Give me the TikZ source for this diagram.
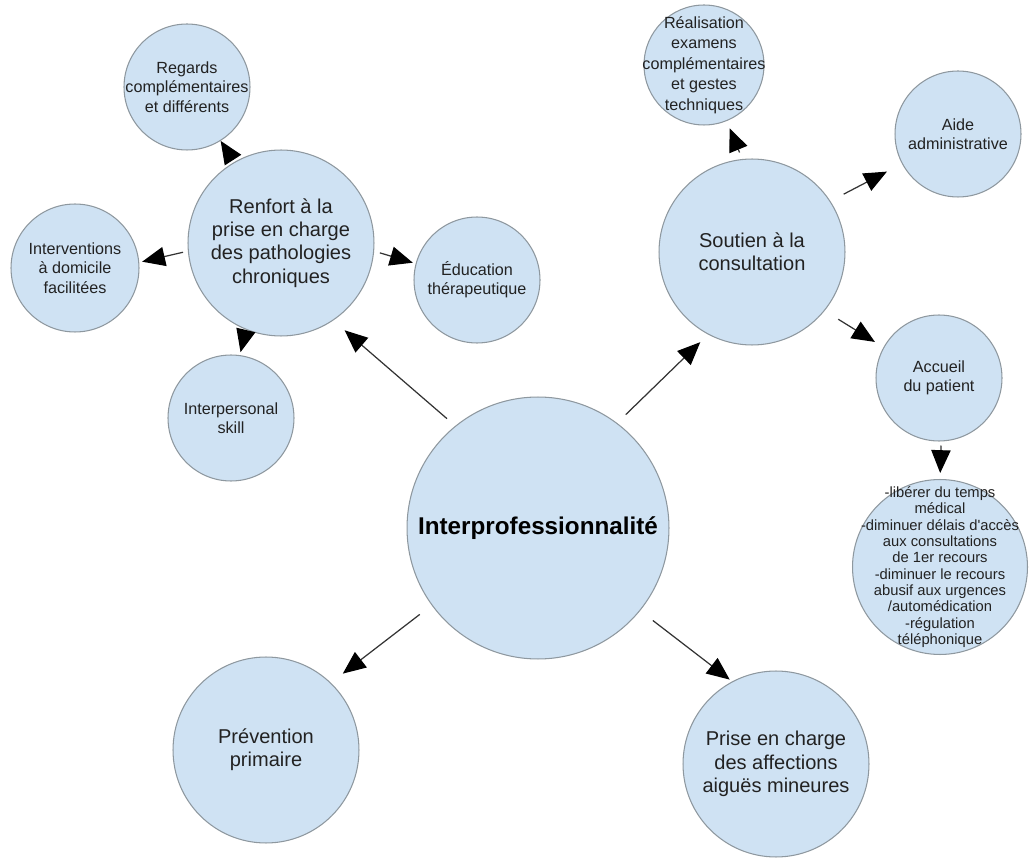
\documentclass[tikz,border=0pt]{standalone}
\usepackage{fontspec}
\setmainfont{Liberation Sans}
\usetikzlibrary{arrows.meta}
\definecolor{bub}{HTML}{CFE2F3}
\definecolor{bord}{HTML}{8E989F}
\definecolor{txt}{HTML}{222222}
\begin{document}
\begin{tikzpicture}[x=0.02cm,y=-0.02cm,
  bubble/.style={circle, draw=bord, fill=bub, line width=0.6pt, inner sep=0pt},
  huge/.style={bubble, minimum size=5.24cm},
  big/.style={bubble, minimum size=3.72cm},
  small/.style={bubble, minimum size=2.52cm},
  hugetxt/.style={align=center, text=black, font=\fontsize{13.8}{15}\selectfont\bfseries},
  bigtxt/.style={align=center, text=txt, font=\fontsize{11.4}{13.2}\selectfont},
  smalltxt/.style={align=center, text=txt, font=\fontsize{9.2}{11}\selectfont},
  tinytxt/.style={align=center, text=txt, font=\fontsize{8.4}{9.3}\selectfont},
  arr/.style={-{Triangle[length=13pt,width=11pt,color=black]}, line width=0.7pt, draw=black!80}]
\useasboundingbox (0,0) rectangle (1035,861);

\node[huge, label={[hugetxt]center:Interprofessionnalité}] (C) at (538,528) {};

\node[big, label={[bigtxt]center:{Renfort à la\\prise en charge\\des pathologies\\chroniques}}] (R) at (281,243) {};
\node[big, label={[bigtxt]center:{Soutien à la\\consultation}}] (S) at (752,252) {};
\node[big, label={[bigtxt]center:{Prévention\\primaire}}] (V) at (266,750) {};
\node[big, label={[bigtxt]center:{Prise en charge\\des affections\\aiguës mineures}}] (K) at (776,764) {};

\node[small, label={[smalltxt]center:{Regards\\complémentaires\\et différents}}] (G) at (187,87) {};
\node[small, minimum size=2.56cm, label={[smalltxt]center:{Interventions\\à domicile\\facilitées}}] (I) at (75,268) {};
\node[small, label={[smalltxt]center:{Éducation\\thérapeutique}}] (E) at (477,280) {};
\node[small, label={[smalltxt]center:{Interpersonal\\skill}}] (P) at (231,418) {};
\node[small, minimum size=2.4cm, label={[smalltxt, font=\fontsize{9.2}{11.6}\selectfont]center:{Réalisation\\examens\\complémentaires\\et gestes\\techniques}}] (X) at (704,65) {};
\node[small, label={[smalltxt]center:{Aide\\administrative}}] (A) at (958,134) {};
\node[small, label={[smalltxt]center:{Accueil\\du patient}}] (U) at (939,378) {};
\node[bubble, minimum size=3.5cm, label={[tinytxt]center:{-libérer du temps\\médical\\-diminuer délais d\textquotesingle accès\\aux consultations\\de 1er recours\\-diminuer le recours\\abusif aux urgences\\/automédication\\-régulation\\téléphonique}}] (T) at (940,567) {};

\draw[arr, shorten <=6.2pt, shorten >=8.5pt] (C.129) -- (R.-56);
\draw[arr, shorten <=6.8pt, shorten >=6.2pt] (C.53.5) -- (S.-118);
\draw[arr, shorten <=8.5pt, shorten >=8.5pt] (C.-144) -- (V.46);
\draw[arr, shorten <=9.1pt, shorten >=1.7pt] (C.-39) -- (K.118);
\draw[arr, shorten <=8.5pt, shorten >=9.6pt] (S.33) -- (A.-152);
\draw[arr, shorten <=9.1pt, shorten >=5.7pt] (S.-39) -- (U.151);
\draw[arr, shorten <=2.8pt] (R.120.5) -- (G.-58);
\draw[arr, shorten <=2.8pt, shorten >=1.7pt] (R.-175) -- (I.5);
\draw[arr, shorten <=3.4pt, shorten >=1.7pt] (R.-5) -- (E.165);
\draw[arr, shorten <=3.4pt, shorten >=1.7pt] (R.-112) -- (P.82);
\draw[arr, shorten <=4pt, shorten >=4.5pt] (S.96) -- (X.-68);
\draw[arr, shorten <=2.3pt, shorten >=3.4pt] (U.-88) -- (T.90);
\end{tikzpicture}
\end{document}
